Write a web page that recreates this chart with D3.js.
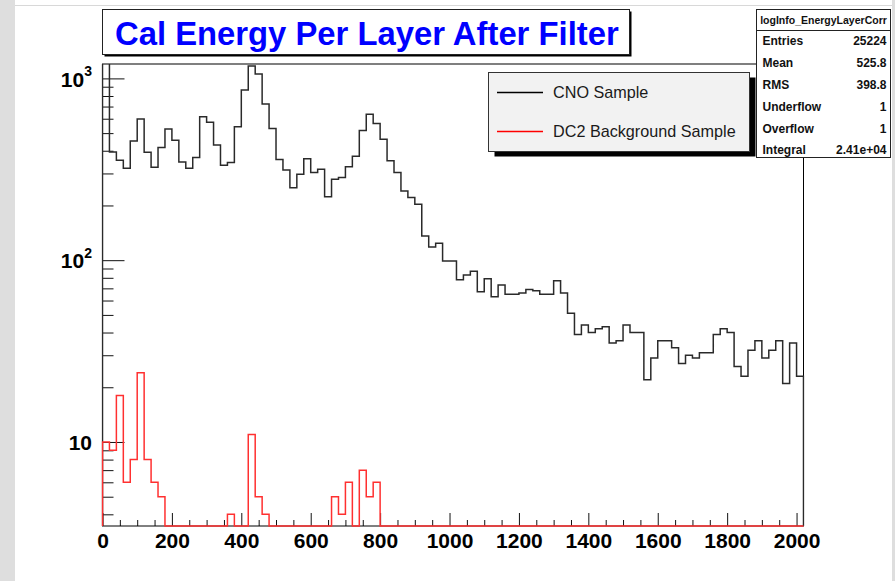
<!DOCTYPE html>
<html>
<head>
<meta charset="utf-8">
<script src="https://cdn.jsdelivr.net/npm/d3@7"></script>
<style>
  html, body { margin: 0; padding: 0; background: #fff; }
  svg { display: block; font-family: "Liberation Sans", Arial, Helvetica, sans-serif; }
</style>
</head>
<body>
<svg id="chart" width="895" height="581"></svg>
<script>
// ---- data -------------------------------------------------------------
const binWidth = 20;              // energy per bin
const xDomain = [0, 2020];
const yDomain = [3.45, 1200];

// CNO sample, counts per 20-unit bin (first bin runs off the top of the frame)
const cnoCounts = [
  1580, 394, 355, 320, 452, 597, 392, 324, 417, 526,
   457, 347, 320, 367, 615, 573, 430, 333, 345, 542,
   863,1170,1057, 722, 530, 358, 313, 250, 297, 361,
   304, 316, 223, 279, 285, 327, 373, 517, 636, 565,
   463, 352, 304, 240, 221, 203, 136, 118, 124,  99,
    99,  78,  83,  87,  67,  79,  63,  73,  65,  65,
    66,  69,  68,  65,  65,  77,  66,  51,  39,  44,
    40,  42,  43,  35,  36,  44,  40,  40,  22,  29,
    36,  36,  33,  27,  30,  29,  31,  31,  39,  42,
    40,  26,  23,  32,  36,  29,  32,  36,  21,  35,
    23
];

// DC2 background sample, counts per bin
const dc2Counts = [
  10,  9, 18,  6,  8, 24,  8,  6,  5,  0,
   0,  0,  0,  0,  0,  0,  0,  0,  4,  0,
   0, 11,  5,  4,  0,  0,  0,  0,  0,  0,
   0,  0,  0,  5,  4,  6,  0,  7,  5,  6,
   0,  0,  0,  0,  0,  0,  0,  0,  0,  0,
   0,  0,  0,  0,  0,  0,  0,  0,  0,  0,
   0,  0,  0,  0,  0,  0,  0,  0,  0,  0,
   0,  0,  0,  0,  0,  0,  0,  0,  0,  0,
   0,  0,  0,  0,  0,  0,  0,  0,  0,  0,
   0,  0,  0,  0,  0,  0,  0,  0,  0,  0,
   0
];

const xMajorTicks = [0, 200, 400, 600, 800, 1000, 1200, 1400, 1600, 1800, 2000];
const xTickLabels = ["0", "200", "400", "600", "800", "1000", "1200", "1400", "1600", "1800", "2000"];
const xMinorStep = 50;

const yMajorTicks = [10, 100, 1000];
const yTickExponents = ["", "2", "3"];   // drawn as 10, 10², 10³

const titleText = "Cal Energy Per Layer After Filter";
const legendLabels = ["CNO Sample", "DC2 Background Sample"];
const legendColors = ["#000000", "#ff0000"];

const statsName = "logInfo_EnergyLayerCorr";
const statsLabels = ["Entries", "Mean", "RMS", "Underflow", "Overflow", "Integral"];
const statsValues = ["25224", "525.8", "398.8", "1", "1", "2.41e+04"];

// ---- layout -----------------------------------------------------------
const frame = { left: 102.5, right: 803.5, top: 64, bottom: 526 };

const svg = d3.select("#chart");

// canvas edges
svg.append("rect").attr("x", 0).attr("y", 0).attr("width", 15).attr("height", 581).attr("fill", "#dedede");
svg.append("rect").attr("x", 892).attr("y", 0).attr("width", 3).attr("height", 581).attr("fill", "#dedede");
svg.append("line").attr("x1", 15).attr("x2", 892).attr("y1", 5.5).attr("y2", 5.5)
  .attr("stroke", "#d8d8d8").attr("stroke-width", 1);

const x = d3.scaleLinear().domain(xDomain).range([frame.left, frame.right]);
const y = d3.scaleLog().domain(yDomain).range([frame.bottom, frame.top]);

// clip region for the histograms (a little slack so edge lines stay whole)
svg.append("defs").append("clipPath").attr("id", "plot-clip")
  .append("rect")
  .attr("x", frame.left - 1).attr("y", frame.top)
  .attr("width", frame.right - frame.left + 2)
  .attr("height", frame.bottom - frame.top + 1.5);

// ---- axes -------------------------------------------------------------
const xMinor = d3.range(xDomain[0], 2001, xMinorStep).filter(v => xMajorTicks.indexOf(v) < 0);

const gxMinor = svg.append("g")
  .attr("transform", `translate(0,${frame.bottom})`)
  .call(d3.axisBottom(x).tickValues(xMinor).tickSize(-6).tickFormat(""));
const gxMajor = svg.append("g")
  .attr("transform", `translate(0,${frame.bottom})`)
  .call(d3.axisBottom(x).tickValues(xMajorTicks).tickSize(-13).tickPadding(7)
    .tickFormat((d, i) => xTickLabels[i]));
[gxMinor, gxMajor].forEach(g => {
  g.select(".domain").remove();
  g.selectAll(".tick line").attr("stroke", "#111").attr("stroke-width", 1);
});
gxMajor.selectAll(".tick text")
  .attr("fill", "#000").attr("font-size", 21).attr("font-weight", "bold")
  .attr("font-family", "'Liberation Sans', Arial, Helvetica, sans-serif");

const yMinor = [];
[1, 10, 100].forEach(dec => {
  for (let k = 2; k <= 9; k++) {
    const v = k * dec;
    if (v >= yDomain[0] && v <= yDomain[1]) yMinor.push(v);
  }
});

const gyMinor = svg.append("g")
  .attr("transform", `translate(${frame.left},0)`)
  .call(d3.axisLeft(y).tickValues(yMinor).tickSize(-11).tickFormat(""));
const gyMajor = svg.append("g")
  .attr("transform", `translate(${frame.left},0)`)
  .call(d3.axisLeft(y).tickValues(yMajorTicks).tickSize(-22).tickFormat(""));
[gyMinor, gyMajor].forEach(g => {
  g.select(".domain").remove();
  g.selectAll(".tick line").attr("stroke", "#111").attr("stroke-width", 1);
  g.selectAll(".tick text").remove();
});

// decade labels with superscript exponents
yMajorTicks.forEach((v, i) => {
  const t = svg.append("text")
    .attr("x", 92).attr("y", y(v) + 8.3)
    .attr("text-anchor", "end")
    .attr("font-size", 21).attr("font-weight", "bold").attr("fill", "#000");
  t.append("tspan").text("10");
  if (yTickExponents[i]) {
    t.append("tspan").attr("font-size", 14).attr("dy", -10.5).text(yTickExponents[i]);
  }
});

// frame
svg.append("rect")
  .attr("x", frame.left).attr("y", frame.top)
  .attr("width", frame.right - frame.left).attr("height", frame.bottom - frame.top)
  .attr("fill", "none").attr("stroke", "#000").attr("stroke-width", 1);

// ---- histograms -------------------------------------------------------
function stepPoints(counts) {
  const pts = [[xDomain[0], yDomain[0]]];
  counts.forEach((c, i) => {
    const v = Math.max(c, yDomain[0]);
    pts.push([i * binWidth, v], [(i + 1) * binWidth, v]);
  });
  pts.push([counts.length * binWidth, yDomain[0]]);
  return pts;
}
const line = d3.line().x(d => x(d[0])).y(d => y(d[1]));

const plot = svg.append("g").attr("clip-path", "url(#plot-clip)");
plot.append("path")
  .attr("d", line(stepPoints(cnoCounts)))
  .attr("fill", "none").attr("stroke", "#2a2a2a").attr("stroke-width", 1.5);
plot.append("path")
  .attr("d", line(stepPoints(dc2Counts)))
  .attr("fill", "none").attr("stroke", "#ff3030").attr("stroke-width", 1.5);

// ---- title ------------------------------------------------------------
svg.append("rect").attr("x", 104.5).attr("y", 11.5).attr("width", 527).attr("height", 45).attr("fill", "#000");
svg.append("rect").attr("x", 102.5).attr("y", 9.5).attr("width", 527).attr("height", 45)
  .attr("fill", "#fff").attr("stroke", "#222").attr("stroke-width", 1);
svg.append("text")
  .attr("x", 115).attr("y", 45)
  .attr("font-size", 32.8).attr("font-weight", "bold").attr("fill", "#0000ff")
  .text(titleText);

// ---- legend -----------------------------------------------------------
const leg = { x: 488.5, y: 72.5, w: 261, h: 79 };
svg.append("rect").attr("x", leg.x + 6).attr("y", leg.y + 5).attr("width", leg.w).attr("height", leg.h).attr("fill", "#000");
svg.append("rect").attr("x", leg.x).attr("y", leg.y).attr("width", leg.w).attr("height", leg.h)
  .attr("fill", "#f2f2f2").attr("stroke", "#333").attr("stroke-width", 1);
const legRows = [92.5, 131.5];
legendLabels.forEach((lab, i) => {
  svg.append("line")
    .attr("x1", 497).attr("x2", 543).attr("y1", legRows[i]).attr("y2", legRows[i])
    .attr("stroke", legendColors[i]).attr("stroke-width", 1.3);
  svg.append("text")
    .attr("x", 553).attr("y", legRows[i] + 5.7)
    .attr("font-size", 16.2).attr("fill", "#1a1a1a")
    .text(lab);
});

// ---- statistics box ---------------------------------------------------
const st = { x: 756.5, y: 9.5, w: 134, h: 148 };
svg.append("rect").attr("x", st.x).attr("y", st.y).attr("width", st.w).attr("height", st.h)
  .attr("fill", "#fff").attr("stroke", "#222").attr("stroke-width", 1);
svg.append("line").attr("x1", st.x).attr("x2", st.x + st.w).attr("y1", 30.5).attr("y2", 30.5)
  .attr("stroke", "#222").attr("stroke-width", 1);
svg.append("text")
  .attr("x", st.x + st.w / 2).attr("y", 23.8)
  .attr("text-anchor", "middle")
  .attr("font-size", 10.5).attr("font-weight", "bold").attr("fill", "#111")
  .text(statsName);
statsLabels.forEach((lab, i) => {
  const cy = 40.7 + i * 21.86 + 4.4;
  svg.append("text").attr("x", 762.5).attr("y", cy)
    .attr("font-size", 12).attr("font-weight", "bold").attr("fill", "#111").text(lab);
  svg.append("text").attr("x", 886.5).attr("y", cy).attr("text-anchor", "end")
    .attr("font-size", 12).attr("font-weight", "bold").attr("fill", "#111").text(statsValues[i]);
});
</script>
</body>
</html>
